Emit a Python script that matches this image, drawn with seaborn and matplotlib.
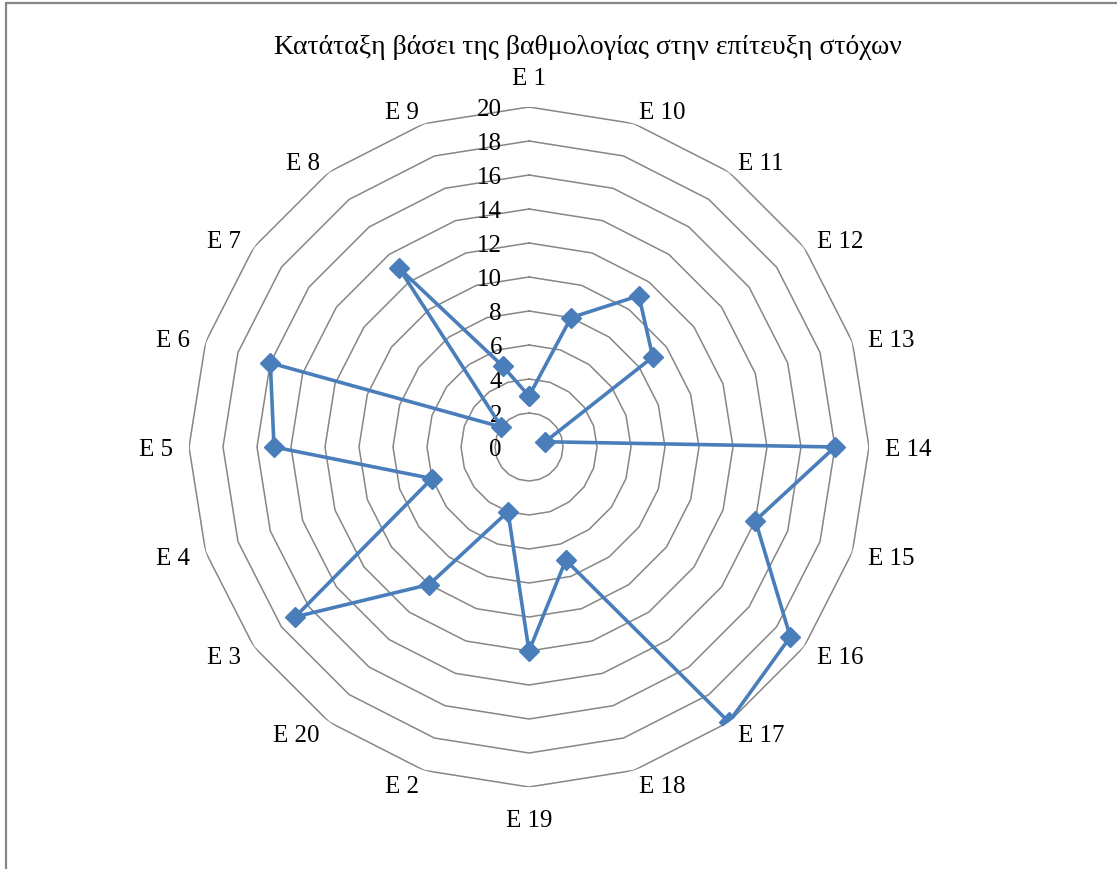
import numpy as np
import pandas as pd
import matplotlib
matplotlib.use("Agg")
import matplotlib.pyplot as plt
from matplotlib.lines import Line2D
import seaborn as sns

# Categories in clockwise order starting at the top
categories = ["E 1", "E 10", "E 11", "E 12", "E 13", "E 14", "E 15", "E 16", "E 17", "E 18",
              "E 19", "E 2", "E 20", "E 3", "E 4", "E 5", "E 6", "E 7", "E 8", "E 9"]
scores = [3, 8, 11, 9, 1, 18, 14, 19, 20, 7, 12, 4, 10, 17, 6, 15, 16, 2, 13, 5]
ring_levels = [0, 2, 4, 6, 8, 10, 12, 14, 16, 18, 20]
title = "Κατάταξη βάσει της βαθμολογίας στην επίτευξη στόχων"

sns.set_theme(style="white")
plt.rcParams["font.family"] = ["Liberation Serif", "DejaVu Serif"]

W, H = 1117, 870
fig = plt.figure(figsize=(W / 100, H / 100), dpi=100)
fig.patch.set_facecolor("white")

# chart-area border (left and top edges)
bx, by = 6 / W, 1 - 4 / H
fig.add_artist(Line2D([bx, bx], [0, by], transform=fig.transFigure, color="#868686", lw=1.6))
fig.add_artist(Line2D([bx, 1], [by, by], transform=fig.transFigure, color="#868686", lw=1.6))

cx, cy, R = 529, 448, 340
ax = fig.add_axes([(cx - R) / W, (H - cy - R) / H, 2 * R / W, 2 * R / H], projection="polar")
ax.set_theta_zero_location("N")
ax.set_theta_direction(-1)
ax.set_ylim(0, 20)
ax.grid(False)
ax.spines["polar"].set_visible(False)
ax.set_xticks([])
ax.set_yticks([])
ax.patch.set_alpha(0)

n = len(categories)
theta = np.arange(n) * 2 * np.pi / n
theta_closed = np.append(theta, theta[0] + 2 * np.pi)

# polygon gridlines
for lvl in ring_levels[1:]:
    ax.plot(theta_closed, [lvl] * (n + 1), color="#868686", lw=1.1, zorder=1)

# value labels along the upper axis
for lvl in ring_levels:
    ax.annotate(str(lvl), xy=(0, lvl), xytext=(-27, -2), textcoords="offset pixels",
                ha="right", va="center", fontsize=18, color="black")

# category labels
for ang, lab in zip(theta, categories):
    s, c = np.sin(ang), np.cos(ang)
    if abs(s) < 0.05:
        ha = "center"
        off = (0, 29) if c > 0 else (0, -33)
    else:
        ha = "left" if s > 0 else "right"
        off = (s * 16, c * 14 - 2)
    ax.annotate(lab, xy=(ang, 20), xytext=off, textcoords="offset pixels",
                ha=ha, va="center", fontsize=18, color="black", annotation_clip=False)

# data series
df = pd.DataFrame({"theta": theta_closed, "score": scores + [scores[0]]})
sns.lineplot(data=df, x="theta", y="score", sort=False, ax=ax, color="#4A7EBB",
             lw=2.6, marker="D", markersize=10, markeredgecolor="#4A7EBB",
             markeredgewidth=1, zorder=3)
ax.set_xlabel("")
ax.set_ylabel("")
ax.set_ylim(0, 20)
ax.set_xticks([])
ax.set_yticks([])

fig.text(588 / W, 1 - 48 / H, title, ha="center", va="center", fontsize=20,
         color="black", family=["Liberation Serif", "DejaVu Serif"])

fig.savefig("out.png", dpi=100, facecolor="white")
